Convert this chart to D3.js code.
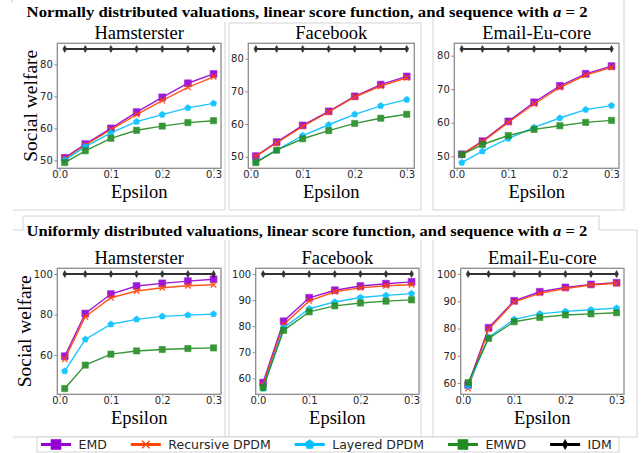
<!DOCTYPE html>
<html>
<head>
<meta charset="utf-8">
<script src="https://cdn.jsdelivr.net/npm/d3@7"></script>
<style>
    body { margin: 0; background: #fff; }
    svg { display: block; }
    .frame-line { stroke: #d4d4d4; stroke-width: 1; fill: none; }
    .axis text { font-family: "DejaVu Sans", sans-serif; font-size: 10px; fill: #262626; }
    .axis line { stroke: #8c8c8c; }
    .serif { font-family: "Liberation Serif", "Times New Roman", serif; fill: #000; }
    .legend text { font-family: "DejaVu Sans", sans-serif; font-size: 12.5px; fill: #262626; }
</style>
</head>
<body>
<svg id="chart" width="643" height="453"></svg>
<script>
/**
 * Data.
 */
const epsilon = [0.01, 0.05, 0.1, 0.15, 0.2, 0.25, 0.3];
const methods = ['EMD', 'Recursive DPDM', 'Layered DPDM', 'EMWD', 'IDM'];
const datasets = ['Hamsterster', 'Facebook', 'Email-Eu-core'];
const rowTitles = [
    'Normally distributed valuations, linear score function, and sequence with ',
    'Uniformly distributed valuations, linear score function, and sequence with '
];
const xTicks = [0, 0.1, 0.2, 0.3];
const yTicksNormal = [50, 60, 70, 80];
const yTicksUniformHam = [60, 80, 100];
const yTicksUniform = [60, 70, 80, 90, 100];

// Social welfare, one row per method (same order as `methods`)
const normalHamsterster = [
    [50.8, 55.1, 60.0, 65.1, 69.7, 74.1, 77.0],
    [50.5, 54.8, 59.6, 64.3, 68.7, 72.8, 76.1],
    [50.1, 54.3, 58.6, 62.1, 64.3, 66.4, 67.8],
    [49.3, 53.0, 56.9, 59.4, 60.7, 61.8, 62.4],
    [84.8, 84.8, 84.8, 84.8, 84.8, 84.8, 84.8]
];
const normalFacebook = [
    [50.2, 54.5, 59.6, 63.9, 68.5, 72.1, 74.6],
    [50.2, 54.2, 59.3, 63.7, 68.3, 71.6, 74.2],
    [48.4, 52.0, 56.5, 59.8, 63.0, 65.6, 67.5],
    [48.2, 52.0, 55.5, 58.0, 60.2, 61.8, 63.0],
    [83.0, 83.0, 83.0, 83.0, 83.0, 83.0, 83.0]
];
const normalEmail = [
    [50.6, 54.5, 60.4, 66.1, 71.0, 74.6, 76.9],
    [50.6, 54.3, 60.1, 65.6, 70.5, 74.2, 76.5],
    [48.1, 51.5, 55.3, 58.6, 61.4, 63.9, 65.1],
    [50.5, 53.5, 56.2, 58.0, 59.1, 60.1, 60.7],
    [82.0, 82.0, 82.0, 82.0, 82.0, 82.0, 82.0]
];
const uniformHamsterster = [
    [59.4, 80.5, 90.1, 94.1, 95.4, 96.5, 97.4],
    [57.9, 78.9, 88.3, 91.6, 93.2, 94.2, 94.7],
    [52.0, 67.7, 75.2, 77.6, 79.1, 79.7, 80.2],
    [43.4, 55.0, 60.4, 62.0, 62.7, 63.2, 63.5],
    [100, 100, 100, 100, 100, 100, 100]
];
const uniformFacebook = [
    [58.4, 81.9, 90.9, 93.8, 95.4, 96.3, 97.0],
    [57.5, 80.6, 89.7, 93.2, 94.7, 95.5, 95.9],
    [56.1, 79.3, 86.7, 89.3, 91.0, 91.8, 92.5],
    [56.5, 78.4, 85.5, 87.8, 88.9, 89.6, 90.1],
    [100, 100, 100, 100, 100, 100, 100]
];
const uniformEmail = [
    [59.3, 80.3, 90.2, 93.5, 95.1, 96.2, 96.8],
    [58.0, 79.7, 89.8, 92.9, 94.7, 96.0, 96.6],
    [59.0, 76.8, 83.4, 85.4, 86.3, 86.9, 87.5],
    [60.2, 76.4, 82.5, 84.1, 85.0, 85.4, 85.8],
    [100, 100, 100, 100, 100, 100, 100]
];

/**
 * Visual configs.
 */
const rowTop = [43.3, 268.3],
    rowBottom = [168.3, 394.3],
    colLeft = [[57.3, 248.3, 454.3], [57.3, 255.7, 460.7]],
    colRight = [[221, 414.3, 619], [221, 419, 624]],
    rowTitleBaseline = [17, 235.5],
    rowTitleSpan = [26.6, 588],
    yLabelX = [36.5, 30.5];

const styles = [
    { color: '#9400D3', shape: 'square', size: 6.8, legendSize: 10 },
    { color: '#FF4500', shape: 'cross', size: 5.5, legendSize: 7.5 },
    { color: '#00BFFF', shape: 'pentagon', size: 6, legendSize: 9 },
    { color: '#228B22', shape: 'square', size: 6.2, legendSize: 10 },
    { color: '#000000', shape: 'diamond', size: 7, legendSize: 10 }
];

// Light page borders around the sub-figures
const frameLines = [
    [12, 0, 12, 3],
    [13, 210, 225, 210], [225, 22, 225, 210],
    [229, 23, 421, 23], [229, 23, 229, 210], [421, 23, 421, 210], [229, 210, 421, 210],
    [433, 14, 433, 210], [433, 210, 624, 210], [624, 0, 624, 210],
    [23, 216, 599, 216], [23, 216, 23, 230], [599, 216, 599, 230],
    [13, 230, 23, 230], [599, 230, 637, 230], [637, 230, 637, 437],
    [225, 240, 225, 437], [229, 240, 229, 437], [421, 240, 421, 437], [433, 240, 433, 437],
    [13, 437, 637, 437]
];

const panels = [
    { row: 0, col: 0, values: normalHamsterster, yTicks: yTicksNormal },
    { row: 0, col: 1, values: normalFacebook, yTicks: yTicksNormal },
    { row: 0, col: 2, values: normalEmail, yTicks: yTicksNormal },
    { row: 1, col: 0, values: uniformHamsterster, yTicks: yTicksUniformHam },
    { row: 1, col: 1, values: uniformFacebook, yTicks: yTicksUniform },
    { row: 1, col: 2, values: uniformEmail, yTicks: yTicksUniform }
];

const svg = d3.select('#chart');
svg.append('rect').attr('width', 643).attr('height', 453).attr('fill', '#fff');

svg.append('g').selectAll('line').data(frameLines).join('line')
    .attr('class', 'frame-line')
    .attr('x1', d => d[0]).attr('y1', d => d[1])
    .attr('x2', d => d[2]).attr('y2', d => d[3]);

rowTitles.forEach(drawRowTitle);
panels.forEach(drawPanel);
drawLegend();

/**
 * Matplotlib-like auto limits: 5% margin on each side.
 */
function padExtent(ext) {
    const pad = (ext[1] - ext[0]) * 0.05;
    return [ext[0] - pad, ext[1] + pad];
}

function markerPath(shape, s) {
    const h = s / 2;
    if (shape === 'square') return `M${-h},${-h}h${s}v${s}h${-s}Z`;
    if (shape === 'cross') return `M${-h},${-h}L${h},${h}M${-h},${h}L${h},${-h}`;
    if (shape === 'diamond') return `M0,${-h}L${h * 0.55},0L0,${h}L${-h * 0.55},0Z`;
    // pentagon
    const r = h * 1.1;
    return d3.range(5).map((k, i) => {
        const a = -Math.PI / 2 + k * 2 * Math.PI / 5;
        return (i ? 'L' : 'M') + (r * Math.cos(a)).toFixed(2) + ',' + (r * Math.sin(a)).toFixed(2);
    }).join('') + 'Z';
}

function drawMarkers(sel, st, size) {
    const cross = st.shape === 'cross';
    sel.attr('d', markerPath(st.shape, size))
        .attr('fill', cross ? 'none' : st.color)
        .attr('stroke', st.color)
        .attr('stroke-width', cross ? 1.3 : 0.6);
}

function drawRowTitle(text, i) {
    const t = svg.append('text')
        .attr('class', 'serif')
        .attr('font-size', 15)
        .attr('font-weight', 'bold');
    t.append('tspan').text(text);
    t.append('tspan').attr('font-style', 'italic').text('a');
    t.append('tspan').text(' = 2');
    const w = t.node().getComputedTextLength();
    const k = (rowTitleSpan[1] - rowTitleSpan[0]) / w;
    t.attr('transform', `translate(${rowTitleSpan[0]},${rowTitleBaseline[i]}) scale(${k},1)`);
}

function drawPanel(p) {
    const x0 = colLeft[p.row][p.col], x1 = colRight[p.row][p.col],
        y0 = rowTop[p.row], y1 = rowBottom[p.row];

    const x = d3.scaleLinear().domain(padExtent(d3.extent(epsilon))).range([x0, x1]);
    const y = d3.scaleLinear().domain(padExtent(d3.extent(p.values.flat()))).range([y1, y0]);

    const g = svg.append('g');

    g.append('g').attr('class', 'axis')
        .attr('transform', `translate(0,${y1})`)
        .call(d3.axisBottom(x).tickValues(xTicks).tickFormat(d3.format('.1f')).tickSize(3).tickPadding(0))
        .call(s => s.select('.domain').remove());

    g.append('g').attr('class', 'axis')
        .attr('transform', `translate(${x0},0)`)
        .call(d3.axisLeft(y).tickValues(p.yTicks).tickSize(3).tickPadding(1.5))
        .call(s => s.select('.domain').remove());

    const line = d3.line().x((d, i) => x(epsilon[i])).y(d => y(d));

    p.values.forEach((vals, m) => {
        const st = styles[m];
        const sg = g.append('g').attr('opacity', m === 4 ? 0.8 : 0.9);
        sg.append('path')
            .attr('d', line(vals))
            .attr('fill', 'none')
            .attr('stroke', st.color)
            .attr('stroke-width', m === 4 ? 2 : 1.4);
        sg.selectAll('path.mk').data(vals).join('path')
            .attr('class', 'mk')
            .attr('transform', (d, i) => `translate(${x(epsilon[i])},${y(d)})`)
            .call(drawMarkers, st, st.size);
    });

    g.append('rect')
        .attr('x', x0).attr('y', y0)
        .attr('width', x1 - x0).attr('height', y1 - y0)
        .attr('fill', 'none')
        .attr('stroke', '#8c8c8c')
        .attr('stroke-width', 1.3);

    const cx = (x0 + x1) / 2;
    g.append('text').attr('class', 'serif')
        .attr('x', cx).attr('y', y0 - 4.8)
        .attr('text-anchor', 'middle')
        .attr('font-size', 18.5)
        .text(datasets[p.col]);

    g.append('text').attr('class', 'serif')
        .attr('x', cx).attr('y', y1 + 29.4)
        .attr('text-anchor', 'middle')
        .attr('font-size', 18.5)
        .text('Epsilon');

    if (p.col === 0) {
        g.append('text').attr('class', 'serif')
            .attr('transform', `translate(${yLabelX[p.row]},${(y0 + y1) / 2}) rotate(-90)`)
            .attr('text-anchor', 'middle')
            .attr('font-size', 19.5)
            .text('Social welfare');
    }
}

function drawLegend() {
    const g = svg.append('g').attr('class', 'legend');
    const cy = 444.5, handle = 30, gap = 7.5, colGap = 24;

    g.append('rect')
        .attr('x', 37).attr('y', 437)
        .attr('width', 582).attr('height', 15)
        .attr('fill', '#fff')
        .attr('stroke', '#d4d4d4');

    let cur = 41;
    methods.forEach((name, m) => {
        const st = styles[m];
        g.append('line')
            .attr('x1', cur).attr('x2', cur + handle)
            .attr('y1', cy).attr('y2', cy)
            .attr('stroke', st.color)
            .attr('stroke-width', 3);
        g.append('path')
            .attr('transform', `translate(${cur + handle / 2},${cy})`)
            .call(drawMarkers, st, st.legendSize);
        const t = g.append('text')
            .attr('x', cur + handle + gap).attr('y', cy)
            .attr('dy', '0.36em')
            .text(name);
        cur += handle + gap + t.node().getComputedTextLength() + colGap;
    });
}
</script>
</body>
</html>
